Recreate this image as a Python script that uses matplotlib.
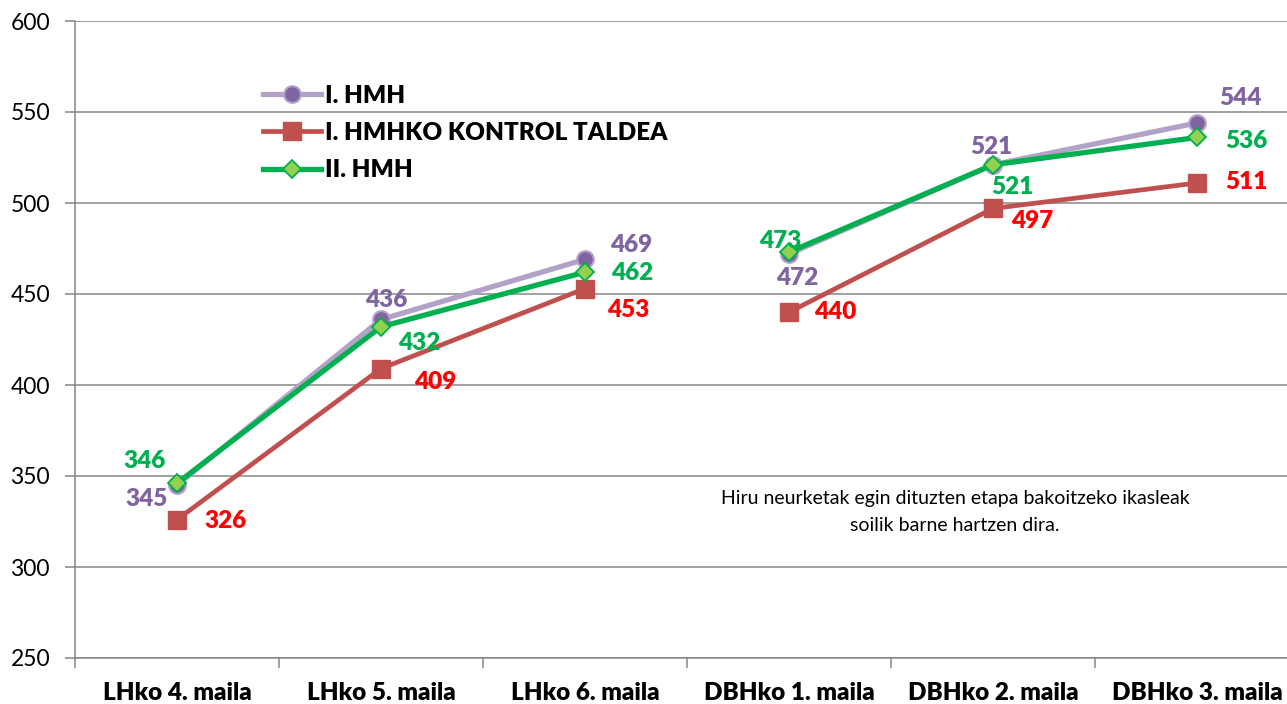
import numpy as np
import matplotlib
matplotlib.use('Agg')
import matplotlib.pyplot as plt

plt.rcParams['font.family'] = ['Lato', 'DejaVu Sans']

# datuak
kategoriak = ['LHko 4. maila', 'LHko 5. maila', 'LHko 6. maila',
              'DBHko 1. maila', 'DBHko 2. maila', 'DBHko 3. maila']
hmh1 = [345, 436, 469, 472, 521, 544]
kontrol = [326, 409, 453, 440, 497, 511]
hmh2 = [346, 432, 462, 473, 521, 536]

# etiketen desplazamenduak (pixeletan)
off_hmh1 = [(-30, -14), (5, 19), (46, 14), (8, -24), (-2, 18), (43, 25)]
off_kontrol = [(48, -1), (54, -13), (43, -21), (46, 0), (39, -13), (49, 1)]
off_hmh2 = [(-32, 22), (38, -16), (47, -1), (-9, 11), (19, -22), (49, -4)]

fig = plt.figure(figsize=(12.87, 7.04), dpi=100)
ax = fig.add_axes([75 / 1287, 1 - 658 / 704, 1224 / 1287, 637 / 704])

x = np.arange(len(kategoriak))
tarteak = [slice(0, 3), slice(3, 6)]

seriak = [
    ('I. HMH', hmh1, dict(color='#B3A2C7', lw=3.8, marker='o', ms=12,
                          mfc='#8064A2', mec='#B3A2C7', mew=1.5), '#8064A2', off_hmh1),
    ('I. HMHKO KONTROL TALDEA', kontrol, dict(color='#C0504D', lw=3.4, marker='s', ms=13,
                                             mfc='#C0504D', mec='#C0504D'), '#FF0000', off_kontrol),
    ('II. HMH', hmh2, dict(color='#00B050', lw=3.8, marker='D', ms=9,
                           mfc='#92D050', mec='#00B050', mew=1.3), '#00B050', off_hmh2),
]

for i, (izena, balioak, estiloa, kolorea, off) in enumerate(seriak):
    v = np.array(balioak, dtype=float)
    for j, s in enumerate(tarteak):
        ax.plot(x[s], v[s], label=izena if j == 0 else None, zorder=3 + i, **estiloa)
    for k in range(len(v)):
        ax.annotate(str(balioak[k]), (x[k], v[k]), xytext=off[k], textcoords='offset pixels',
                    ha='center', va='center', color=kolorea, fontsize=17.5, fontweight='heavy',
                    zorder=10)

ax.set_xlim(-0.5, 5.5)
ax.set_ylim(250, 600)
ax.set_yticks(range(250, 601, 50))
ax.yaxis.grid(True, color='#868686', lw=1.1)
ax.set_axisbelow(True)

ax.set_xticks(np.arange(-0.5, 6, 1))
ax.set_xticklabels([])
ax.set_xticks(x, minor=True)
ax.set_xticklabels(kategoriak, minor=True, fontsize=17.5, fontweight='heavy')
ax.tick_params(axis='x', which='major', length=7, color='#868686', width=1.1, direction='out')
ax.tick_params(axis='x', which='minor', length=0, pad=17)
ax.tick_params(axis='y', length=7, color='#868686', width=1.1, labelsize=16.5, pad=11)

for s in ['top', 'right']:
    ax.spines[s].set_visible(False)
for s in ['left', 'bottom']:
    ax.spines[s].set_color('#868686')
    ax.spines[s].set_linewidth(1.1)

ax.legend(loc='center left', bbox_to_anchor=(263 / 1287, 1 - 133 / 704),
          bbox_transform=fig.transFigure, frameon=False,
          prop={'size': 17.5, 'weight': 'heavy'}, handlelength=2.4, handletextpad=0.15,
          labelspacing=0.62, borderpad=0, borderaxespad=0)

fig.text(955 / 1287, 1 - 512 / 704,
         'Hiru neurketak egin dituzten etapa bakoitzeko ikasleak\nsoilik barne hartzen dira.',
         ha='center', va='center', fontsize=14, linespacing=1.75)

fig.savefig('out.png', dpi=100)
